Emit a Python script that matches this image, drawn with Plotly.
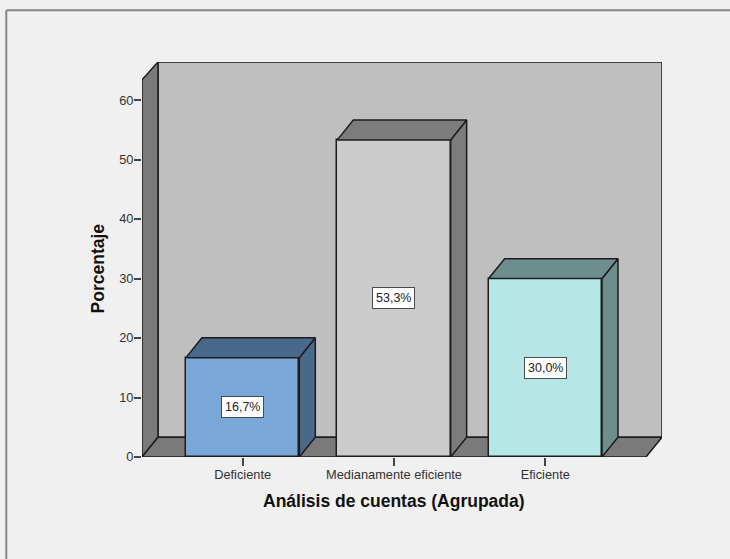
import plotly.graph_objects as go

# Data
categories = ["Deficiente", "Medianamente eficiente", "Eficiente"]
percentages = [16.7, 53.3, 30.0]
y_ticks = [0, 10, 20, 30, 40, 50, 60]

# Bar colours: front faces and the darker side/top faces
front_colors = ["#79a8d8", "#cccccc", "#b5e7e7"]
side_colors = ["#48698a", "#7c7c7c", "#6e8e8e"]

WALL = "#bfbfbf"
FLOOR = "#7a7a7a"
PAPER = "#f0f0f0"
EDGE = "#1c1c1c"
RULE = "#858585"

# Axis extents and the oblique depth offset, in data units
X_MIN, X_MAX = -0.665, 2.771
Y_MAX = 66.39
FRONT_TOP = 63.4
DEPTH_X = 0.1057
DEPTH_Y = 3.33
BAR_WIDTH = 0.749

# Outer frame position, as fractions of the plot area
FRAME_LEFT = -0.261
FRAME_TOP = 1.131


def poly_path(points):
    return "M " + " L ".join(f"{x},{y}" for x, y in points) + " Z"


def box(path, fill):
    return dict(type="path", path=path, xref="x", yref="y", layer="below",
                fillcolor=fill, line=dict(color=EDGE, width=1.5))


# Chart box: back wall, left wall and floor sit below the bars
x_front_right = X_MAX - DEPTH_X
shapes = [
    box(poly_path([(X_MIN + DEPTH_X, DEPTH_Y), (X_MAX, DEPTH_Y), (X_MAX, Y_MAX),
                   (X_MIN + DEPTH_X, Y_MAX)]), WALL),
    box(poly_path([(X_MIN, 0), (X_MIN + DEPTH_X, DEPTH_Y), (X_MIN + DEPTH_X, Y_MAX),
                   (X_MIN, FRONT_TOP)]), FLOOR),
    box(poly_path([(X_MIN, 0), (x_front_right, 0), (X_MAX, DEPTH_Y),
                   (X_MIN + DEPTH_X, DEPTH_Y)]), FLOOR),
    # Outer frame of the chart area: top and left rules only
    dict(type="line", xref="paper", yref="paper", x0=FRAME_LEFT, x1=1.2,
         y0=FRAME_TOP, y1=FRAME_TOP, line=dict(color=RULE, width=2), layer="below"),
    dict(type="line", xref="paper", yref="paper", x0=FRAME_LEFT, x1=FRAME_LEFT,
         y0=-0.3, y1=FRAME_TOP, line=dict(color=RULE, width=2), layer="below"),
]

fig = go.Figure()

# Front faces
fig.add_trace(go.Bar(
    x=list(range(len(categories))), y=percentages, width=BAR_WIDTH,
    marker=dict(color=front_colors, line=dict(color=EDGE, width=1.5)),
    hoverinfo="skip", showlegend=False,
))

# Side and top faces, offset by the depth
for i, value in enumerate(percentages):
    left, right = i - BAR_WIDTH / 2, i + BAR_WIDTH / 2
    faces = [
        ([right, right + DEPTH_X, right + DEPTH_X, right, right],
         [0, DEPTH_Y, value + DEPTH_Y, value, 0]),
        ([left, left + DEPTH_X, right + DEPTH_X, right, left],
         [value, value + DEPTH_Y, value + DEPTH_Y, value, value]),
    ]
    for xs, ys in faces:
        fig.add_trace(go.Scatter(
            x=xs, y=ys, mode="lines", fill="toself", fillcolor=side_colors[i],
            line=dict(color=EDGE, width=1.5), hoverinfo="skip", showlegend=False,
        ))

# Value labels centred on each bar
annotations = [
    dict(x=i, y=value / 2, xref="x", yref="y", showarrow=False,
         text=f"{value:.1f}".replace(".", ",") + "%",
         font=dict(family="Liberation Sans", size=12.5, color="#222222"),
         bgcolor="#ffffff", bordercolor="#4a4a4a", borderwidth=1, borderpad=3)
    for i, value in enumerate(percentages)
]

# Axis titles are centred on the front plane, not on the whole plot area
TITLE_FONT = dict(family="Liberation Sans", size=17.5, color="#111111")
annotations += [
    dict(x=1, y=-0.112, xref="x", yref="paper", showarrow=False, yanchor="middle",
         text="<b>Análisis de cuentas (Agrupada)</b>", font=TITLE_FONT),
    dict(x=-0.0845, y=FRONT_TOP / 2, xref="paper", yref="y", showarrow=False, xanchor="center",
         text="<b>Porcentaje</b>", textangle=-90, font=TITLE_FONT),
]

fig.update_layout(
    width=730, height=559,
    margin=dict(l=141.7, r=68.3, t=61.7, b=102.3, autoexpand=False),
    paper_bgcolor=PAPER, plot_bgcolor=PAPER,
    shapes=shapes, annotations=annotations, bargap=0,
    font=dict(family="Liberation Sans", color="#333333"),
    xaxis=dict(
        range=[X_MIN, X_MAX], showgrid=False, zeroline=False, showline=False,
        tickmode="array", tickvals=list(range(len(categories))), ticktext=categories,
        ticks="outside", ticklen=8, tickwidth=1.5, tickcolor="#444444",
        ticklabelstandoff=-2,
        tickfont=dict(family="Liberation Sans", size=12.8, color="#333333"),
    ),
    yaxis=dict(
        range=[0, Y_MAX], showgrid=False, zeroline=False, showline=False,
        tickmode="array", tickvals=y_ticks, ticktext=[str(t) for t in y_ticks],
        ticks="outside", ticklen=7, tickwidth=1.5, tickcolor="#444444",
        ticklabelstandoff=-2,
        tickfont=dict(family="Liberation Sans", size=12.8, color="#333333"),
    ),
)

fig.write_html("out.html")
